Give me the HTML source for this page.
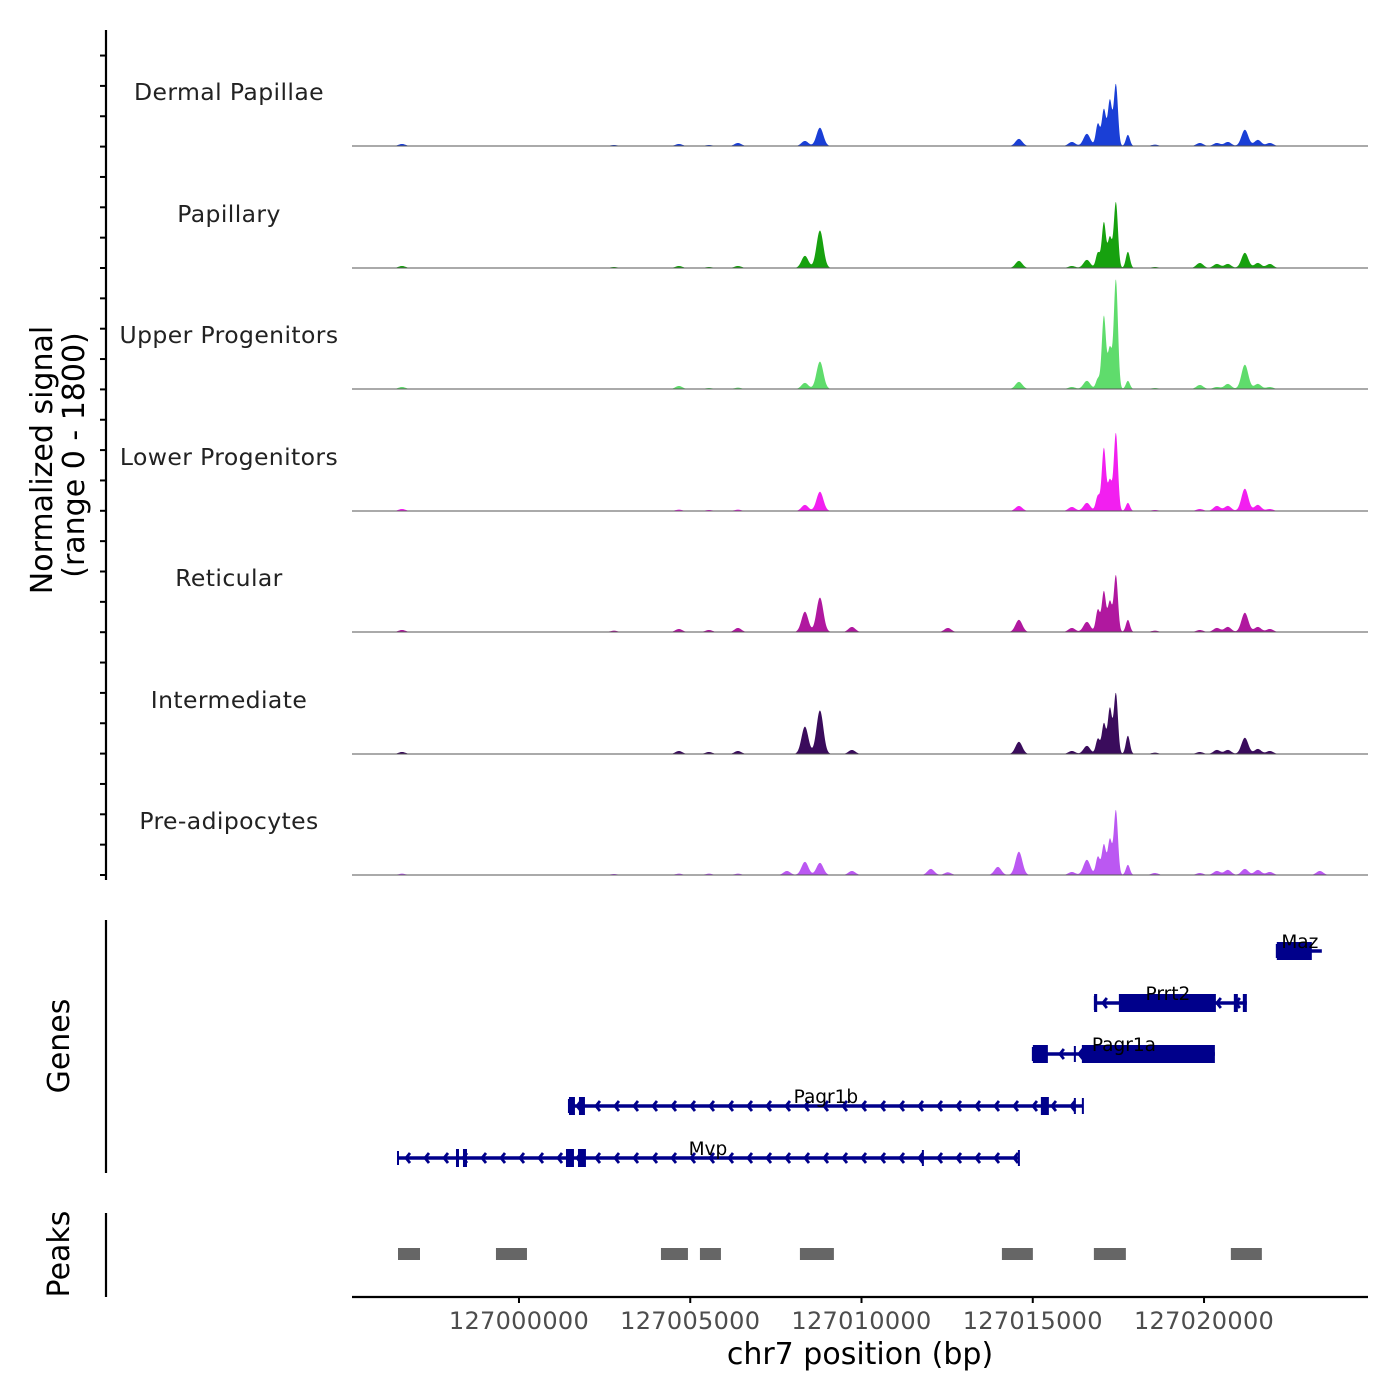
<!DOCTYPE html>
<html><head><meta charset="utf-8">
<style>
html,body{margin:0;padding:0;background:#fff;}
svg{display:block;font-family:"DejaVu Sans","Liberation Sans",sans-serif;}
</style></head>
<body>
<svg id="chart" width="1400" height="1400" viewBox="0 0 1400 1400"></svg>
<script>
// ---- data ----
const trackNames = ["Dermal Papillae","Papillary","Upper Progenitors","Lower Progenitors","Reticular","Intermediate","Pre-adipocytes"];
const trackColors = ["#1a3fd6","#17a10f","#5fdc6c","#f21ff0","#b0189f","#3a0c5c","#bb58f2"];
const peakPositions = [126996585,127004670,127006393,127008348,127008786,127014595,127016142,127016580,127016901,127017076,127017251,127017426,127017777,127019878,127020374,127020695,127021192,127021571,127021921,127007823,127009720,127012025,127013981,127023380,127018565,127012521,127002773,127005546];
const sigDP   = [30,30,45,75,270,105,60,180,330,540,675,915,165,45,45,60,240,90,45,0,0,0,0,0,20,0,15,15];
const sigPap  = [30,30,30,180,555,105,30,120,225,675,450,975,240,75,60,60,225,75,60,0,0,0,0,0,15,0,15,15];
const sigUp   = [30,45,20,90,405,105,30,120,150,1080,600,1620,120,60,30,75,360,75,30,0,0,0,0,0,15,0,0,15];
const sigLow  = [30,20,20,90,285,75,60,120,225,930,450,1155,120,30,75,75,330,90,30,0,0,0,0,0,15,0,0,15];
const sigRet  = [30,45,60,300,510,180,60,150,330,600,450,840,180,30,60,75,285,75,45,0,75,0,0,0,20,60,20,30];
const sigInt  = [30,45,45,405,645,180,45,120,225,450,675,900,270,30,60,60,240,75,45,0,60,0,0,0,20,0,0,30];
const sigPre  = [20,20,20,195,180,345,45,225,270,450,525,960,150,30,60,75,90,75,45,60,60,90,120,60,30,40,15,20];
const trackSignals = [sigDP,sigPap,sigUp,sigLow,sigRet,sigInt,sigPre];
const xTicks = [127000000,127005000,127010000,127015000,127020000];
const genes = [
 {name:"Maz",row:0,start:127022125,end:127023439,exons:[[127022125,127023147]],marks:[],label:127022797},
 {name:"Prrt2",row:1,start:127016813,end:127021250,exons:[[127016790,127016880],[127017514,127020346],[127020870,127020987],[127021133,127021250]],marks:[],label:127018944},
 {name:"Pagr1a",row:2,start:127015003,end:127020317,exons:[[127015003,127015441],[127016434,127020317]],marks:[127016229],label:127017660},
 {name:"Pagr1b",row:3,start:127001459,end:127016463,exons:[[127001459,127001634],[127001751,127001926],[127015237,127015470]],marks:[127016229,127016463],label:127008961},
 {name:"Mvp",row:4,start:126996468,end:127014595,exons:[[126998161,126998248],[126998365,126998482],[127001372,127001605],[127001722,127001955]],marks:[127011792,127014595],label:127005516}
];
const peakStarts = [126996468,126999328,127004145,127005283,127008202,127014099,127016784,127020783];
const peakEnds   = [126997110,127000233,127004933,127005896,127009194,127015003,127017718,127021688];

// ---- scales ----
const X0=352,X1=1368,BP0=126995125,BP1=127024787;
const xs = bp => X0+(bp-BP0)/(BP1-BP0)*(X1-X0);
const baselines=[146,268,389,511,632,754,875];
const trackH=121.5, maxSig=1800;
const ys=(i,v)=>baselines[i]-v/maxSig*trackH;
const NS="http://www.w3.org/2000/svg";
const svg=document.getElementById("chart");
function mk(tag,attrs,parent){const e=document.createElementNS(NS,tag);for(const k in attrs)e.setAttribute(k,attrs[k]);(parent||svg).appendChild(e);return e;}

// ---- tracks ----
trackNames.forEach((name,i)=>{
  const g=mk("g",{});
  
  
  const sig=trackSignals[i];
  let d="M"+X0+","+baselines[i];
  for(let x=X0;x<=X1;x+=0.5){
    const bp=BP0+(x-X0)/(X1-X0)*(BP1-BP0);
    let v=0;
    for(let k=0;k<peakPositions.length;k++){
      const s=(k>=8&&k<=12)?60:100;
      const dd=(bp-peakPositions[k])/s;
      v+=sig[k]*Math.exp(-0.5*dd*dd);
    }
    d+=" L"+x.toFixed(1)+","+ys(i,Math.min(v,maxSig)).toFixed(2);
  }
  d+=" L"+X1+","+baselines[i]+"Z";
  const p=mk("path",{d:d,fill:trackColors[i],stroke:"none"},g);
  
  
  const bl=mk("line",{x1:X0,x2:X1,y1:baselines[i],y2:baselines[i],stroke:"#555","stroke-width":1},g);
  
  
  const t=mk("text",{x:229,y:baselines[i]-46,"text-anchor":"middle","font-size":23.5,fill:"#222","letter-spacing":"0.4"},g);
  t.textContent=name;
  
  
});

// ---- left axes ----
function axisLine(y1,y2,name){const l=mk("line",{x1:106,x2:106,y1:y1,y2:y2,stroke:"#000","stroke-width":2.2});}
axisLine(30,880,"signal-y-axis");
for(let y=875;y>=30;y-=30.35){const t=mk("line",{x1:100,x2:106,y1:y,y2:y,stroke:"#000","stroke-width":2});}
axisLine(920,1173,"genes-axis");
axisLine(1213,1297,"peaks-axis");
function rotText(x,y,txt,name,fs){const t=mk("text",{x:x,y:y,"text-anchor":"middle","font-size":fs,fill:"#000",transform:"rotate(-90 "+x+" "+y+")"});t.textContent=txt;}
rotText(52,460,"Normalized signal","y-axis-title",30);
rotText(84,455,"(range 0 - 1800)","y-axis-subtitle",30);
rotText(69,1046,"Genes","genes-title",30);
rotText(69,1254,"Peaks","peaks-title",30);

// ---- genes ----
const rowY=[951,1003,1054,1106,1158];
const GC="#00008b";
genes.forEach(gn=>{
  const g=mk("g",{});
  
  
  const y=rowY[gn.row],xa=xs(gn.start),xb=xs(gn.end);
  mk("line",{x1:xa,x2:xb,y1:y,y2:y,stroke:GC,"stroke-width":3.5},g);
  for(let x=xa+8;x<xb-4;x+=19){
    mk("polyline",{points:(x+4)+","+(y-5)+" "+x+","+y+" "+(x+4)+","+(y+5),fill:"none",stroke:GC,"stroke-width":2.8},g);
  }
  mk("line",{x1:xa,x2:xa,y1:y-7,y2:y+7,stroke:GC,"stroke-width":2},g);
  gn.marks.forEach(m=>mk("line",{x1:xs(m),x2:xs(m),y1:y-8,y2:y+8,stroke:GC,"stroke-width":2},g));
  gn.exons.forEach(e=>mk("rect",{x:xs(e[0]),y:y-9,width:Math.max(3,xs(e[1])-xs(e[0])),height:18,fill:GC},g));
  const t=mk("text",{x:xs(gn.label),y:y-3,"text-anchor":"middle","font-size":18.5,fill:"#000"},g);
  t.textContent=gn.name;
});

// ---- peaks ----
peakStarts.forEach((s,i)=>{
  const r=mk("rect",{x:xs(s),y:1248,width:xs(peakEnds[i])-xs(s),height:12,fill:"#666"});
  
  
});

// ---- x axis ----
const xa=mk("line",{x1:X0,x2:X1,y1:1297,y2:1297,stroke:"#000","stroke-width":2.2});


xTicks.forEach(v=>{
  const x=xs(v);
  const tk=mk("line",{x1:x,x2:x,y1:1297,y2:1303,stroke:"#000","stroke-width":2});
  
  
  const t=mk("text",{x:x,y:1329,"text-anchor":"middle","font-size":24,fill:"#4d4d4d","letter-spacing":"0.3"});
  t.textContent=String(v);
  
  
});
const xt=mk("text",{x:860,y:1364,"text-anchor":"middle","font-size":30,fill:"#000"});
xt.textContent="chr7 position (bp)";


</script>
</body></html>
